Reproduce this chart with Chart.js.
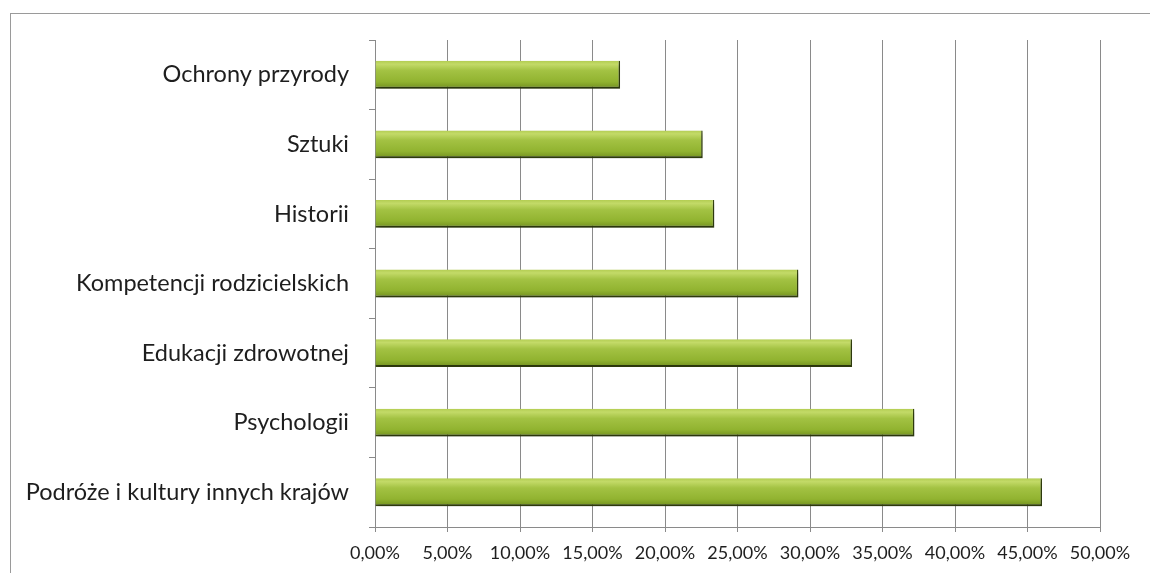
<!DOCTYPE html>
<html>
<head>
<meta charset="utf-8">
<script src="https://cdn.jsdelivr.net/npm/chart.js@4"></script>
<style>
  html, body { margin: 0; padding: 0; background: #fff; }
  #wrap { position: relative; width: 1150px; height: 573px; overflow: hidden; }
  #frame { position: absolute; left: 10px; top: 13px; width: 1200px; height: 700px;
           border-top: 1px solid #9a9a9a; border-left: 1px solid #9a9a9a; }
  #c { position: absolute; left: 0; top: 0; }
</style>
</head>
<body>
<div id="wrap">
  <div id="frame"></div>
  <canvas id="c" width="1150" height="573"></canvas>
</div>
<script>
const categories = [
  "Ochrony przyrody",
  "Sztuki",
  "Historii",
  "Kompetencji rodzicielskich",
  "Edukacji zdrowotnej",
  "Psychologii",
  "Podróże i kultury innych krajów"
];
const values = [0.169, 0.226, 0.234, 0.292, 0.329, 0.372, 0.460];
const xTickValues = [0, 0.05, 0.10, 0.15, 0.20, 0.25, 0.30, 0.35, 0.40, 0.45, 0.50];

function fmtPct(v) {
  return (v * 100).toFixed(2).replace('.', ',') + '%';
}

const shadowPlugin = {
  id: 'barShadow',
  beforeDatasetsDraw(chart) {
    const ctx = chart.ctx;
    ctx.save();
    ctx.shadowColor = 'rgba(0,0,0,0.30)';
    ctx.shadowBlur = 4;
    ctx.shadowOffsetX = 2;
    ctx.shadowOffsetY = 3;
  },
  afterDatasetsDraw(chart) {
    chart.ctx.restore();
  }
};

function barGradient(c) {
  const chart = c.chart;
  const ys = chart.scales && chart.scales.y;
  if (c.type !== 'data' || !ys || ys.height === undefined) return '#95b736';
  const cy = ys.getPixelForValue(c.dataIndex);
  const half = ys.height / categories.length * 0.4 / 2;
  const g = chart.ctx.createLinearGradient(0, cy - half, 0, cy + half);
  g.addColorStop(0, '#b3cd52');
  g.addColorStop(0.12, '#c3da68');
  g.addColorStop(0.35, '#a3c243');
  g.addColorStop(0.75, '#91b330');
  g.addColorStop(1, '#718f1f');
  return g;
}

new Chart(document.getElementById('c'), {
  type: 'bar',
  data: {
    labels: categories,
    datasets: [{
      data: values,
      backgroundColor: barGradient,
      borderColor: '#3a4a10',
      borderWidth: { top: 0, left: 0, right: 1.5, bottom: 2 },
      borderSkipped: false,
      barPercentage: 0.4,
      categoryPercentage: 1.0
    }]
  },
  options: {
    indexAxis: 'y',
    responsive: false,
    animation: false,
    devicePixelRatio: 1,
    layout: { padding: { left: 0, right: 50, top: 40, bottom: 0 } },
    plugins: { legend: { display: false }, tooltip: { enabled: false } },
    scales: {
      x: {
        min: 0, max: 0.5,
        afterBuildTicks(scale) { scale.ticks = xTickValues.map(v => ({ value: v })); },
        afterFit(scale) { scale.height = 46; },
        grid: { color: '#8a8a8a', lineWidth: 1, tickLength: 5, drawTicks: true },
        border: { display: true, color: '#8a8a8a', width: 1 },
        ticks: {
          callback: v => fmtPct(v),
          color: '#1e1e1e',
          padding: 10,
          maxRotation: 0,
          font: { family: 'Lato', size: 18 }
        }
      },
      y: {
        afterFit(scale) { scale.width = 375; },
        grid: { offset: true, drawOnChartArea: false, tickLength: 6, color: '#8a8a8a' },
        border: { display: true, color: '#8a8a8a', width: 1 },
        ticks: {
          color: '#1e1e1e',
          padding: 20,
          font: { family: 'Lato', size: 23.5 }
        }
      }
    }
  },
  plugins: [shadowPlugin]
});
</script>
</body>
</html>
